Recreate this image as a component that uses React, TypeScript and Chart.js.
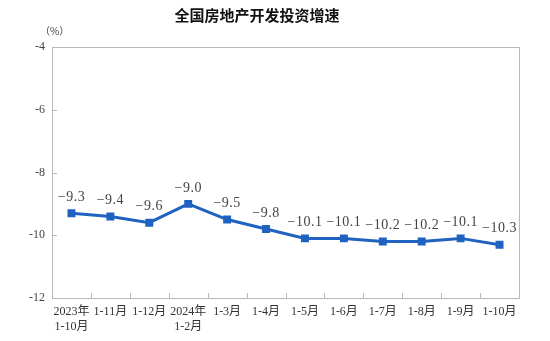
import React, { useEffect, useRef } from "react";
import { Chart, registerables } from "chart.js";

Chart.register(...registerables);

const categories: (string | string[])[] = [
  ["2023年", "1-10月"],
  "1-11月",
  "1-12月",
  ["2024年", "1-2月"],
  "1-3月",
  "1-4月",
  "1-5月",
  "1-6月",
  "1-7月",
  "1-8月",
  "1-9月",
  "1-10月",
];
const growth = [-9.3, -9.4, -9.6, -9.0, -9.5, -9.8, -10.1, -10.1, -10.2, -10.2, -10.1, -10.3];
const yTicks = [-4, -6, -8, -10, -12];
const titleText = "全国房地产开发投资增速";
const unitText = "（%）";

const SERIF = "'Liberation Serif', 'DejaVu Serif', 'Noto Sans CJK SC', serif";
const LINE = "#1f62bf";

const framePlugin = {
  id: "frame",
  afterDraw(chart: any) {
    const { ctx, chartArea } = chart;
    const x = chart.scales.x;
    const y = chart.scales.y;
    ctx.save();
    ctx.strokeStyle = "#b8b8b8";
    ctx.lineWidth = 1;
    ctx.strokeRect(
      Math.round(chartArea.left) + 0.5,
      Math.round(chartArea.top) + 0.5,
      Math.round(chartArea.right - chartArea.left),
      Math.round(chartArea.bottom - chartArea.top)
    );
    ctx.beginPath();
    for (let i = 1; i < categories.length; i++) {
      const px = Math.round((x.getPixelForValue(i - 1) + x.getPixelForValue(i)) / 2) + 0.5;
      ctx.moveTo(px, chartArea.bottom);
      ctx.lineTo(px, chartArea.bottom - 5);
    }
    yTicks.forEach((v) => {
      const py = Math.round(y.getPixelForValue(v)) + 0.5;
      ctx.moveTo(chartArea.left, py);
      ctx.lineTo(chartArea.left + 5, py);
    });
    ctx.stroke();

    ctx.fillStyle = "#111";
    ctx.font = "bold 15px 'Noto Sans CJK SC', sans-serif";
    ctx.textAlign = "center";
    ctx.textBaseline = "middle";
    ctx.fillText(titleText, 257, 15);
    ctx.fillStyle = "#444";
    ctx.font = "10px 'Noto Sans CJK SC', sans-serif";
    ctx.textAlign = "left";
    ctx.fillText(unitText, 40, 31);

    const meta = chart.getDatasetMeta(0);
    ctx.fillStyle = "#444";
    ctx.font = "14px " + SERIF;
    ctx.textAlign = "center";
    ctx.textBaseline = "bottom";
    try {
      (ctx as any).letterSpacing = "0.5px";
    } catch (e) {}
    meta.data.forEach((pt: any, i: number) => {
      const v = growth[i];
      const s = (v < 0 ? "\u2212" : "") + Math.abs(v).toFixed(1);
      ctx.fillText(s, pt.x, pt.y - 9);
    });
    ctx.restore();
  },
};

export default function App() {
  const ref = useRef<HTMLCanvasElement | null>(null);
  useEffect(() => {
    document.body.style.margin = "0";
    const chart = new Chart(ref.current as HTMLCanvasElement, {
      type: "line",
      data: {
        labels: categories as any,
        datasets: [
          {
            data: growth,
            borderColor: LINE,
            backgroundColor: LINE,
            borderWidth: 3,
            pointStyle: "rect",
            pointRadius: 3.5,
            pointBackgroundColor: LINE,
            pointBorderColor: LINE,
            tension: 0,
          },
        ],
      },
      options: {
        animation: false,
        responsive: false,
        layout: { padding: { left: 0, right: 31, top: 47, bottom: 0 } },
        plugins: { legend: { display: false }, tooltip: { enabled: false }, title: { display: false } },
        scales: {
          x: {
            offset: true,
            grid: { display: false, drawTicks: false },
            border: { display: false },
            ticks: {
              color: "#333",
              font: { family: SERIF, size: 12, lineHeight: 1.2 },
              padding: 7,
              maxRotation: 0,
              autoSkip: false,
            },
            afterFit: (s: any) => {
              s.height = 43;
            },
          },
          y: {
            min: -12,
            max: -4,
            grid: { display: false, drawTicks: false },
            border: { display: false },
            afterBuildTicks: (s: any) => {
              s.ticks = yTicks.map((v) => ({ value: v }));
            },
            ticks: {
              color: "#444",
              font: { family: SERIF, size: 12 },
              padding: 7,
            },
            afterFit: (s: any) => {
              s.width = 52;
            },
          },
        },
      },
      plugins: [framePlugin],
    });
    return () => chart.destroy();
  }, []);
  return <canvas ref={ref} width={550} height={341} style={{ display: "block" }} />;
}
